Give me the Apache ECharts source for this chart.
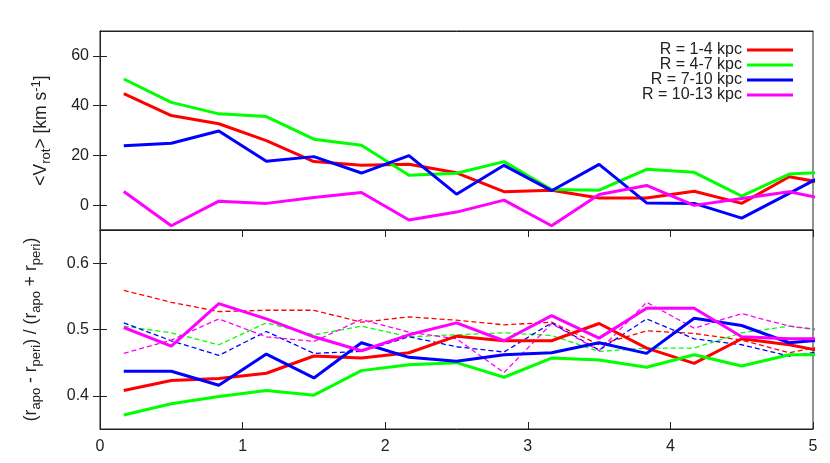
<!DOCTYPE html>
<html>
<head>
<meta charset="utf-8">
<script src="https://cdn.jsdelivr.net/npm/echarts@6/dist/echarts.min.js"></script>
<style>html,body{margin:0;padding:0;background:#fff}#c{width:830px;height:463px}</style>
</head>
<body>
<div id="c"></div>
<script>
const XS = [0.1667, 0.5, 0.8333, 1.1667, 1.5, 1.8333, 2.1667, 2.5, 2.8333, 3.1667, 3.5, 3.8333, 4.1667, 4.5, 4.8333, 5.1667];
const NAMES = ['R = 1-4 kpc', 'R = 4-7 kpc', 'R = 7-10 kpc', 'R = 10-13 kpc'];
const COLORS = ['#ff0000', '#00ff00', '#0000ff', '#ff00ff'];

const vrot_1_4   = [44.8, 36.0, 32.7, 25.9, 17.5, 16.0, 16.4, 13.0, 5.4, 6.0, 2.9, 2.9, 5.6, 0.7, 11.4, 8.0];
const vrot_4_7   = [50.7, 41.3, 36.7, 35.6, 26.5, 24.1, 12.0, 12.8, 17.5, 6.3, 6.0, 14.4, 13.2, 3.6, 12.5, 13.5];
const vrot_7_10  = [23.9, 24.9, 29.8, 17.6, 19.5, 12.9, 19.9, 4.4, 16.0, 5.8, 16.4, 0.9, 0.7, -5.2, 4.7, 14.9];
const vrot_10_13 = [5.5, -8.3, 1.6, 0.7, 3.1, 5.1, -6.0, -2.8, 2.0, -8.3, 4.3, 7.9, -0.1, 2.7, 5.4, 1.4];

const ecc_1_4   = [0.408, 0.423, 0.426, 0.434, 0.460, 0.457, 0.465, 0.490, 0.483, 0.483, 0.509, 0.472, 0.449, 0.486, 0.477, 0.463];
const ecc_4_7   = [0.371, 0.388, 0.399, 0.408, 0.401, 0.438, 0.447, 0.450, 0.428, 0.457, 0.454, 0.443, 0.462, 0.445, 0.462, 0.462];
const ecc_7_10  = [0.437, 0.437, 0.416, 0.463, 0.427, 0.480, 0.458, 0.452, 0.462, 0.465, 0.480, 0.464, 0.517, 0.506, 0.480, 0.486];
const ecc_10_13 = [0.503, 0.475, 0.539, 0.516, 0.489, 0.468, 0.492, 0.510, 0.483, 0.521, 0.487, 0.532, 0.532, 0.489, 0.486, 0.486];

const eccB_1_4   = [0.559, 0.541, 0.527, 0.529, 0.529, 0.511, 0.519, 0.514, 0.507, 0.511, 0.477, 0.498, 0.494, 0.484, 0.465, 0.479];
const eccB_4_7   = [0.505, 0.495, 0.477, 0.510, 0.492, 0.505, 0.489, 0.492, 0.495, 0.491, 0.467, 0.472, 0.472, 0.495, 0.505, 0.495];
const eccB_7_10  = [0.510, 0.483, 0.461, 0.497, 0.464, 0.467, 0.489, 0.474, 0.466, 0.510, 0.469, 0.516, 0.486, 0.477, 0.460, 0.470];
const eccB_10_13 = [0.464, 0.484, 0.516, 0.489, 0.482, 0.515, 0.496, 0.486, 0.435, 0.509, 0.468, 0.541, 0.502, 0.524, 0.505, 0.497];

const TOP_TICKS = [0, 20, 40, 60];
const BOT_TICKS = [0.4, 0.5, 0.6];
const X_TICKS = [0, 1, 2, 3, 4, 5];

const FONT = "'Liberation Sans', Arial, sans-serif";
const AX = '#222';

const pair = ys => XS.map((x, i) => [x, ys[i]]);

const topSets = [vrot_1_4, vrot_4_7, vrot_7_10, vrot_10_13];
const botSolid = [ecc_1_4, ecc_4_7, ecc_7_10, ecc_10_13];
const botDash = [eccB_1_4, eccB_4_7, eccB_7_10, eccB_10_13];

const series = [];
topSets.forEach((d, i) => series.push({
  name: NAMES[i], type: 'line', xAxisIndex: 0, yAxisIndex: 0, data: pair(d),
  symbol: 'none', clip: true, lineStyle: { color: COLORS[i], width: 3 }, itemStyle: { color: COLORS[i] }, z: 3
}));
botSolid.forEach((d, i) => series.push({
  name: NAMES[i], type: 'line', xAxisIndex: 2, yAxisIndex: 2, data: pair(d),
  symbol: 'none', clip: true, lineStyle: { color: COLORS[i], width: 3 }, itemStyle: { color: COLORS[i] }, z: 3
}));
botDash.forEach((d, i) => series.push({
  name: NAMES[i] + ' (b)', type: 'line', xAxisIndex: 2, yAxisIndex: 2, data: pair(d),
  symbol: 'none', clip: true, lineStyle: { color: COLORS[i], width: 1.3, type: [5, 3] }, itemStyle: { color: COLORS[i] }, z: 2
}));

const richName = {
  sub: { fontSize: 13, fontFamily: FONT, color: AX, verticalAlign: 'bottom', lineHeight: 12 },
  sup: { fontSize: 13, fontFamily: FONT, color: AX, verticalAlign: 'top', lineHeight: 12 }
};

function yAx(grid, pos, min, max, ticks, showLabel, name, gap) {
  return {
    type: 'value', gridIndex: grid, position: pos, min: min, max: max,
    name: name || '', nameLocation: 'middle', nameRotate: 90, nameGap: gap || 0,
    nameTextStyle: { fontSize: 17.5, fontFamily: FONT, color: AX, lineHeight: 23, rich: richName },
    axisLine: { show: true, lineStyle: { color: AX, width: 1 } },
    axisTick: { show: true, inside: true, length: 7, customValues: ticks, lineStyle: { color: AX } },
    axisLabel: { show: showLabel, customValues: ticks, fontSize: 16, fontFamily: FONT, color: AX, margin: 11 },
    splitLine: { show: false }
  };
}
function xAx(grid, pos, ticks, labels) {
  return {
    type: 'value', gridIndex: grid, position: pos, min: 0, max: 5, interval: 1,
    axisLine: { show: true, onZero: false, lineStyle: { color: AX, width: 1 } },
    axisTick: { show: ticks, inside: true, length: 7, customValues: X_TICKS, lineStyle: { color: AX } },
    axisLabel: { show: labels, customValues: X_TICKS, fontSize: 16, fontFamily: FONT, color: AX, margin: 10 },
    splitLine: { show: false }
  };
}

const option = {
  animation: false,
  backgroundColor: '#fff',
  grid: [
    { left: 100, right: 17, top: 31, height: 199, show: true, borderColor: AX, borderWidth: 1, containLabel: false },
    { left: 100, right: 17, top: 230, height: 199, show: true, borderColor: AX, borderWidth: 1, containLabel: false }
  ],
  xAxis: [
    xAx(0, 'bottom', false, false),
    xAx(0, 'top', false, false),
    xAx(1, 'bottom', true, true),
    xAx(1, 'top', true, false)
  ],
  yAxis: [
    yAx(0, 'left', -10, 70, TOP_TICKS, true, '<V{sub|rot}> [km s{sup|-1}]', 47),
    yAx(0, 'right', -10, 70, TOP_TICKS, false),
    yAx(1, 'left', 0.35, 0.65, BOT_TICKS, true, '(r{sub|apo} - r{sub|peri}) / (r{sub|apo} + r{sub|peri})', 57),
    yAx(1, 'right', 0.35, 0.65, BOT_TICKS, false)
  ],
  legend: {
    data: NAMES, orient: 'vertical', right: 32, top: 37, align: 'right',
    icon: 'rect', itemWidth: 46, itemHeight: 3, itemGap: -1,
    textStyle: { fontSize: 16, fontFamily: FONT, color: AX, lineHeight: 14 }
  },
  series: series
};

echarts.init(document.getElementById('c'), null, { renderer: 'canvas' }).setOption(option);
</script>
</body>
</html>
